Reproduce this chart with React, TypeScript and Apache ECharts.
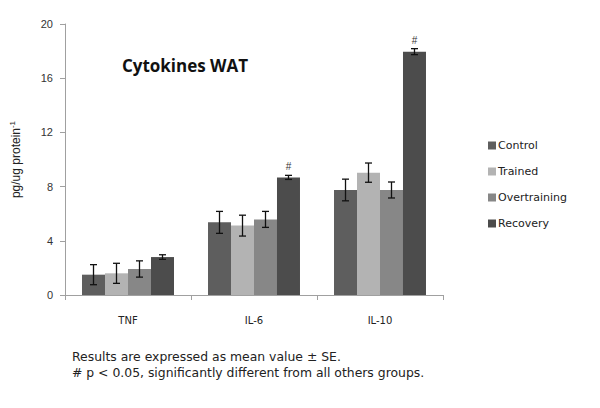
import React, { useEffect, useRef } from "react";
import * as echarts from "echarts";

const categories = ["TNF", "IL-6", "IL-10"];
const groups = ["Control", "Trained", "Overtraining", "Recovery"];
const controlVals = [1.5, 5.36, 7.75];
const trainedVals = [1.6, 5.12, 9.03];
const overVals = [1.92, 5.58, 7.75];
const recoveryVals = [2.8, 8.68, 17.96];
const controlErr = [0.74, 0.81, 0.8];
const trainedErr = [0.74, 0.77, 0.71];
const overErr = [0.6, 0.59, 0.59];
const recoveryErr = [0.17, 0.15, 0.22];
const significant = [false, true, true];
const yTicks = [0, 4, 8, 12, 16, 20];

const colors = ["#5e5e5e", "#b3b3b3", "#878787", "#4c4c4c"];
const values = [controlVals, trainedVals, overVals, recoveryVals];
const errs = [controlErr, trainedErr, overErr, recoveryErr];
const CAT_GAP = 0.27;

export default function App() {
  const ref = useRef<HTMLDivElement>(null);
  useEffect(() => {
    if (!ref.current) return;
    const chart = echarts.init(ref.current, null, { renderer: "svg" });
    const errData: number[][] = [];
    values.forEach((vals, s) => {
      vals.forEach((v, c) => errData.push([c, v, errs[s][c], s]));
    });
    const barSeries = values.map((vals, s) => ({
      type: "bar",
      name: groups[s],
      data: vals.map((v, c) =>
        s === 3 && significant[c]
          ? {
              value: v,
              label: {
                show: true,
                position: "top",
                distance: 6,
                formatter: "#",
                fontSize: 10,
                color: "#333",
                fontFamily: "Liberation Sans",
              },
            }
          : v
      ),
      itemStyle: { color: colors[s] },
      barGap: "0%",
      barCategoryGap: CAT_GAP * 100 + "%",
    }));
    chart.setOption({
      animation: false,
      grid: { left: 63, right: 157, top: 24, bottom: 113 },
      title: {
        text: "Cytokines WAT",
        left: 180,
        top: 52,
        textAlign: "center",
        textStyle: {
          fontFamily: "Open Sans",
          fontWeight: "bold",
          fontSize: 17,
          color: "#111",
        },
      },
      legend: {
        data: groups,
        orient: "vertical",
        left: 483,
        top: 135,
        itemWidth: 8,
        itemHeight: 8,
        itemGap: 15,
        icon: "rect",
        textStyle: {
          fontFamily: "DejaVu Sans",
          fontSize: 11,
          color: "#222",
          padding: [0, 0, 0, -3],
        },
      },
      xAxis: {
        type: "category",
        data: categories,
        axisLine: { lineStyle: { color: "#a0a0a0", width: 1 } },
        axisTick: { show: true, length: 5, lineStyle: { color: "#a0a0a0" } },
        axisLabel: {
          margin: 20,
          fontFamily: "DejaVu Sans",
          fontSize: 10,
          color: "#222",
        },
      },
      yAxis: {
        type: "value",
        min: 0,
        max: 20,
        interval: 4,
        splitLine: { show: false },
        axisLine: { show: true, lineStyle: { color: "#a0a0a0", width: 1 } },
        axisTick: { show: true, length: 5, lineStyle: { color: "#a0a0a0" } },
        axisLabel: {
          margin: 12,
          fontFamily: "Liberation Sans",
          fontSize: 11,
          color: "#333",
          formatter: (v: number) => (yTicks.includes(v) ? String(v) : ""),
        },
        name: "{a|pg/ug protein}{b|-1}",
        nameLocation: "middle",
        nameRotate: 90,
        nameGap: 42,
        nameTextStyle: {
          rich: {
            a: {
              fontFamily: "Liberation Sans",
              fontSize: 12,
              color: "#222",
            },
            b: {
              fontFamily: "Liberation Sans",
              fontSize: 8,
              color: "#222",
              verticalAlign: "top",
              padding: [0, 0, 7, 0],
            },
          },
        },
      },
      series: [
        ...barSeries,
        {
          type: "custom",
          data: errData,
          encode: { x: 0, y: 1 },
          z: 5,
          renderItem: (params: any, api: any) => {
            const c = api.value(0);
            const v = api.value(1);
            const e = api.value(2);
            const s = api.value(3);
            const band = api.size([1, 0])[0];
            const barW = (band * (1 - CAT_GAP)) / 4;
            const center = api.coord([c, v]);
            const x = center[0] + (s - 1.5) * barW;
            const top = api.coord([c, v + e])[1];
            const bot = api.coord([c, v - e])[1];
            const cap = 3.5;
            const style = { stroke: "#111", lineWidth: 1.3 };
            return {
              type: "group",
              children: [
                { type: "line", shape: { x1: x, y1: top, x2: x, y2: bot }, style },
                { type: "line", shape: { x1: x - cap, y1: top, x2: x + cap, y2: top }, style },
                { type: "line", shape: { x1: x - cap, y1: bot, x2: x + cap, y2: bot }, style },
              ],
            };
          },
        },
      ],
      graphic: [
        {
          type: "text",
          left: 72,
          top: 348,
          style: {
            text: "Results are expressed as mean value ± SE.\n# p < 0.05, significantly different from all others groups.",
            fontFamily: "DejaVu Sans",
            fontSize: 12.4,
            lineHeight: 16,
            fill: "#222",
          },
        },
      ],
    });
    return () => chart.dispose();
  }, []);
  return (
    <div
      ref={ref}
      style={{ width: 600, height: 408, position: "absolute", left: 0, top: 0, background: "#fff" }}
    />
  );
}
